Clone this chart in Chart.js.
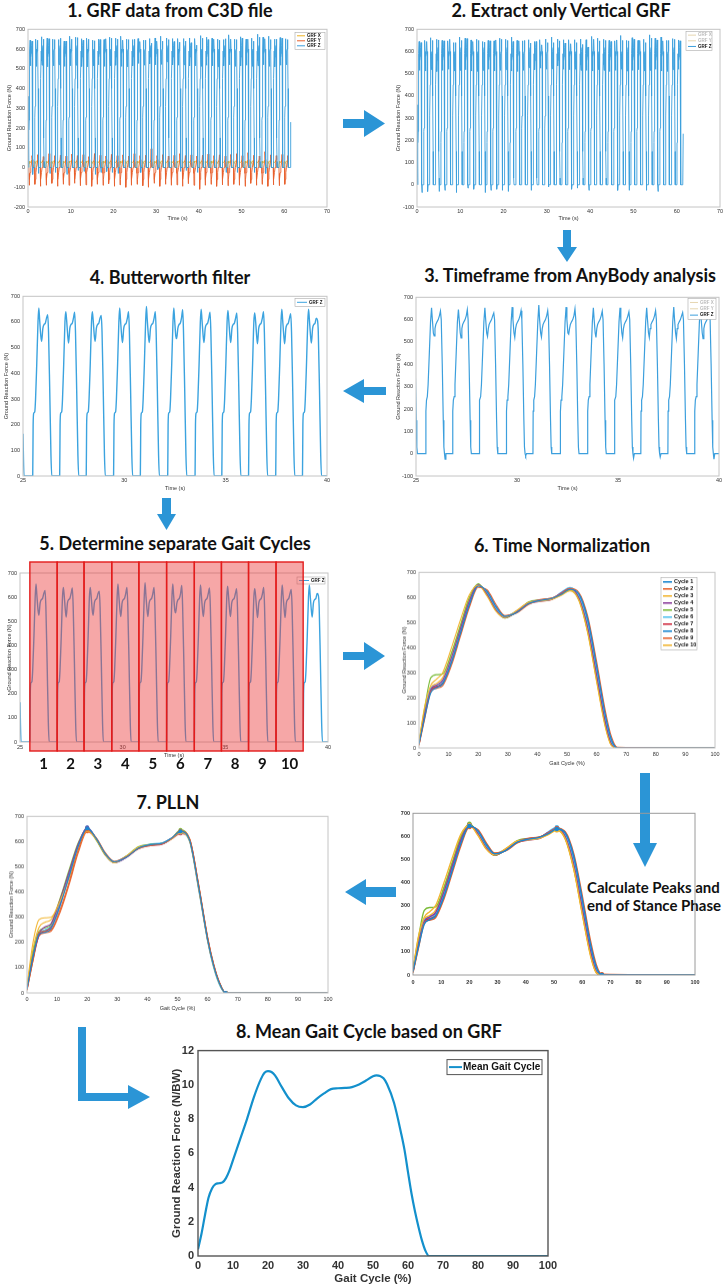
<!DOCTYPE html>
<html>
<head>
<meta charset="utf-8">
<script src="https://cdn.jsdelivr.net/npm/chart.js@4.4.1/dist/chart.umd.min.js"></script>
<style>
  html, body { margin: 0; padding: 0; background: #fff; }
  #page { position: relative; width: 726px; height: 1287px; overflow: hidden; }
  .box { position: absolute; }
  .ttl { position: absolute; font-family: Lato, "Open Sans", sans-serif; font-weight: 700; font-size: 18px;
         line-height: 18px; color: #111; white-space: nowrap; transform: translate(-50%, -50%); }
  .note { position: absolute; font-family: Lato, "Open Sans", sans-serif; font-weight: 700; font-size: 15px;
          line-height: 15px; color: #111; white-space: nowrap; }
</style>
</head>
<body>
<div id="page">
  <div class="ttl" style="left:170px;top:10px">1. GRF data from C3D file</div>
  <div class="ttl" style="left:561px;top:10px">2. Extract only Vertical GRF</div>
  <div class="ttl" style="left:570px;top:275px">3. Timeframe from AnyBody analysis</div>
  <div class="ttl" style="left:170px;top:277px">4. Butterworth filter</div>
  <div class="ttl" style="left:175px;top:543px">5. Determine separate Gait Cycles</div>
  <div class="ttl" style="left:562px;top:545px">6. Time Normalization</div>
  <div class="ttl" style="left:168px;top:802px">7. PLLN</div>
  <div class="ttl" style="left:369px;top:1031px">8. Mean Gait Cycle based on GRF</div>
  <div class="note" style="left:587px;top:880px">Calculate Peaks and</div>
  <div class="note" style="left:587px;top:898px">end of Stance Phase</div>

  <svg class="box" style="left:0;top:0" width="726" height="1287">
    <g fill="#2b95d6">
      <polygon points="343,119 364,119 364,110 385,123.5 364,137 364,128 343,128"/>
      <polygon points="563,230 571,230 571,247 577,247 567,262 557,247 563,247"/>
      <polygon points="386,387 364,387 364,379 343,391 364,403 364,395 386,395"/>
      <polygon points="162,498 171,498 171,514 176,514 166.5,530 157,514 162,514"/>
      <polygon points="343,652 364,652 364,642 385,656 364,670 364,660 343,660"/>
      <polygon points="640,773 650,773 650,843 657,843 645,867 633,843 640,843"/>
      <polygon points="396,887 366,887 366,879 345,892 366,905 366,897 396,897"/>
      <polygon points="78,1027 86,1027 86,1093 128,1093 128,1085 150,1097 128,1109 128,1101 78,1101"/>
    </g>
  </svg>
</div>

<script>
// ---------- raw recording (panels 1-3) ----------
const ONSETS = [0.21, 1.55, 2.86, 4.20, 5.52, 6.87, 8.18, 9.53, 10.84, 12.19,
  13.50, 14.85, 16.16, 17.51, 18.82, 20.17, 21.48, 22.83, 24.14, 25.48,
  26.81, 28.12, 29.47, 30.79, 32.14, 33.49, 34.81, 36.13, 37.47, 38.79,
  40.13, 41.44, 42.79, 44.10, 45.45, 46.76, 48.11, 49.42, 50.77, 52.08,
  53.43, 54.74, 56.09, 57.40, 58.75, 60.06];
const PEAK1 = [645, 650, 662, 655, 650, 648, 640, 665, 660, 652, 655, 645, 650, 648, 660, 655, 665, 650, 648, 653,
  645, 653, 656, 665, 656, 653, 653, 653, 656, 653, 668, 660, 655, 650, 648, 672, 650, 662, 650, 655,
  675, 660, 665, 650, 658, 652];
const VALLEY = [515, 512, 518, 510, 515, 520, 512, 515, 518, 512, 510, 515, 520, 512, 515, 518, 512, 510, 515, 527,
  518, 525, 520, 522, 535, 520, 518, 520, 515, 515, 512, 518, 515, 510, 515, 520, 512, 515, 518, 512,
  515, 520, 512, 510, 518, 520];
const PEAK2 = [640, 645, 650, 652, 648, 655, 640, 650, 658, 645, 650, 642, 648, 652, 655, 650, 645, 648, 650, 638,
  645, 630, 640, 640, 648, 638, 635, 640, 632, 620, 655, 648, 650, 645, 652, 650, 648, 655, 650, 640,
  660, 652, 648, 650, 655, 648];
const Z_DIP = [-35, -30, 0, -30, -25, 0, -35, 0, -15, -20, 0, -35, -25, -20, -25, -30, 0, 0, 0, -25,
  0, 0, -10, 0, 0, 0, -20, -15, 0, -25, 0, 0, 0, 0, -25, 0, -25, 0, 0, -25,
  0, -30, 0, 0, 0, 0];
const Y_MIN = [-90, -85, -95, -90, -80, -95, -85, -90, -80, -92, -88, -95, -85, -90, -82, -95, -88, -100, -90, -85,
  -92, -100, -80, -95, -85, -90, -88, -95, -82, -90, -110, -90, -85, -95, -88, -92, -85, -90, -95, -80,
  -90, -85, -95, -88, -92, -85];
const Y_MAX = [60, 65, 55, 70, 60, 62, 58, 68, 60, 65, 55, 70, 62, 58, 66, 60, 64, 58, 70, 60,
  62, 95, 60, 65, 58, 62, 70, 60, 64, 58, 62, 68, 60, 64, 58, 66, 70, 60, 75, 62,
  58, 80, 64, 60, 66, 60];
// one raw stance phase, seconds after heel strike
const RAW_T = [0, 0.01, 0.04, 0.08, 0.12, 0.18, 0.24, 0.29, 0.33, 0.38, 0.42, 0.46, 0.50, 0.56, 0.62, 0.68, 0.73, 0.77, 0.82, 0.87, 0.90, 0.93];
const RAW_Z = [0, 190, 240, 255, 310, 450, 590, 650, 600, 540, 520, 560, 578, 590, 600, 618, 640, 600, 400, 150, 30, 0];
const FORCE_T = [0, 0.03, 0.08, 0.15, 0.30, 0.45, 0.60, 0.72, 0.82, 0.90, 0.93];
const RAW_X = [0, 20, 32, 22, 25, 30, 35, 28, 12, 2, 0];
const RAW_Y = [0, -30, -85, -60, -25, 0, 25, 55, 40, 5, 0];
const Z_LEAD_T = [0, 0.08], Z_LEAD = [360, 0];
const Z_TAIL_T = [61.4, 61.5], Z_TAIL = [0, 230];

// ---------- filtered recording (panels 4-5) ----------
const FILT_ONSETS = [25.48, 26.81, 28.12, 29.47, 30.79, 32.14, 33.49, 34.81, 36.13, 37.47, 38.79];
const FILT_T = [0, 0.02, 0.05, 0.10, 0.14, 0.20, 0.26, 0.30, 0.34, 0.40, 0.44, 0.50, 0.56, 0.62, 0.68, 0.74, 0.78, 0.84, 0.90, 0.94];
const FILT_Z = [0, 200, 245, 250, 300, 440, 600, 650, 610, 545, 525, 575, 590, 595, 615, 630, 560, 330, 80, 0];
const FILT_PEAK1 = [655, 640, 640, 655, 660, 655, 650, 645, 635, 650, 650];
const FILT_VALLEY = [525, 518, 525, 520, 520, 535, 520, 520, 515, 515, 518];
const FILT_PEAK2 = [628, 638, 625, 640, 640, 648, 638, 635, 640, 632, 607];
const FILT_LEAD_T = [25, 25.05], FILT_LEAD = [165, 0];
const FILT_TAIL_T = [40], FILT_TAIL = [0];

// ---------- time-normalized cycles (panels 6 and 7) ----------
const NORM_X = [0, 2, 4, 6, 8, 11, 14, 17, 20, 23, 26, 29, 33, 37, 41, 45, 48, 51, 54, 57, 60, 63, 65, 67, 100];
const NORM = [
  [15, 125, 220, 240, 255, 340, 455, 570, 645, 625, 565, 525, 540, 575, 588, 597, 612, 632, 615, 515, 330, 130, 35, 0, 0],
  [10, 120, 225, 238, 248, 330, 445, 560, 640, 630, 572, 528, 538, 572, 590, 598, 615, 636, 620, 525, 345, 145, 45, 3, 0],
  [25, 170, 250, 275, 300, 400, 510, 610, 648, 605, 545, 520, 548, 580, 586, 593, 610, 628, 590, 460, 265, 80, 10, 0, 0],
  [18, 140, 232, 252, 270, 362, 475, 585, 650, 612, 550, 520, 544, 578, 590, 596, 618, 636, 598, 478, 290, 100, 15, 0, 0],
  [22, 165, 280, 292, 295, 380, 490, 600, 655, 610, 548, 518, 545, 582, 590, 595, 612, 630, 592, 465, 275, 88, 12, 0, 0],
  [20, 145, 238, 250, 265, 355, 470, 580, 650, 618, 556, 524, 546, 576, 586, 594, 620, 640, 606, 492, 305, 112, 22, 0, 0],
  [15, 135, 230, 245, 262, 352, 468, 582, 652, 615, 552, 520, 542, 574, 584, 592, 615, 638, 602, 488, 300, 105, 18, 0, 0],
  [18, 138, 228, 242, 258, 348, 462, 575, 648, 620, 560, 523, 540, 576, 588, 596, 617, 635, 612, 505, 320, 122, 28, 0, 0],
  [12, 130, 236, 246, 256, 345, 458, 572, 646, 622, 562, 526, 544, 580, 592, 598, 614, 634, 608, 498, 312, 118, 25, 0, 0],
  [22, 150, 240, 258, 280, 375, 485, 595, 650, 608, 546, 518, 546, 579, 587, 594, 608, 626, 588, 458, 268, 85, 10, 0, 0]
];
// ---------- peak-aligned cycles (PLLN) ----------
const PLLN_X = [0, 2, 4, 6, 8, 11, 14, 17, 20, 23, 26, 29, 33, 37, 41, 45, 48, 51, 54, 57, 60, 62, 64, 66, 100];
const PLLN = [
  [15, 140, 232, 240, 255, 345, 462, 580, 652, 612, 552, 520, 538, 574, 588, 594, 614, 640, 606, 422, 212, 108, 36, 0, 0],
  [10, 130, 240, 245, 250, 330, 440, 565, 648, 615, 556, 522, 540, 572, 585, 592, 612, 642, 612, 430, 220, 115, 40, 0, 0],
  [30, 200, 290, 298, 300, 365, 455, 570, 645, 608, 548, 516, 542, 578, 587, 593, 610, 636, 602, 415, 208, 105, 34, 0, 0],
  [18, 145, 235, 262, 275, 370, 480, 590, 655, 610, 548, 516, 538, 575, 587, 593, 612, 637, 604, 418, 210, 108, 37, 0, 0],
  [22, 160, 245, 258, 272, 375, 488, 595, 650, 606, 546, 517, 543, 580, 589, 594, 611, 646, 608, 425, 216, 110, 38, 0, 0],
  [20, 150, 236, 250, 268, 362, 476, 588, 648, 614, 553, 521, 542, 577, 590, 596, 613, 635, 600, 410, 205, 100, 30, 0, 0],
  [14, 135, 228, 245, 262, 352, 466, 583, 650, 611, 551, 519, 537, 572, 584, 590, 610, 632, 610, 430, 222, 114, 40, 0, 0],
  [18, 142, 230, 248, 262, 355, 470, 585, 656, 612, 550, 518, 540, 574, 586, 592, 612, 638, 606, 420, 212, 108, 36, 0, 0],
  [12, 128, 226, 238, 245, 320, 430, 555, 640, 612, 552, 520, 540, 575, 587, 594, 614, 640, 612, 428, 218, 112, 38, 0, 0],
  [25, 175, 260, 280, 290, 372, 478, 588, 648, 608, 548, 517, 541, 576, 586, 592, 611, 636, 604, 418, 210, 106, 35, 0, 0]
];
const CYCLE_LABELS = ["Cycle 1", "Cycle 2", "Cycle 3", "Cycle 4", "Cycle 5", "Cycle 6", "Cycle 7", "Cycle 8", "Cycle 9", "Cycle 10"];
const MARK_IDX = [8, 17, 23]; // first peak, second peak, end of stance

// ---------- mean gait cycle (panel 8, N/BW) ----------
const MEAN_X = [0, 1, 2, 3, 4, 5, 6, 7, 8, 9, 10, 12, 14, 16, 18, 19, 20, 21, 22, 24, 26, 28, 30, 32, 34, 36, 38, 40, 42, 44, 46, 48, 50, 51, 52, 53, 54, 56, 58, 59, 60, 61, 62, 63, 64, 65, 66, 70, 80, 90, 100];
const MEAN_Y = [0.4, 1.3, 2.4, 3.4, 3.95, 4.2, 4.25, 4.3, 4.55, 5.0, 5.6, 6.8, 8.0, 9.3, 10.35, 10.7, 10.8, 10.75, 10.55, 9.85, 9.2, 8.8, 8.7, 8.85, 9.2, 9.5, 9.75, 9.8, 9.82, 9.87, 10.02, 10.25, 10.5, 10.55, 10.52, 10.38, 10.05, 8.95, 7.2, 6.2, 4.9, 3.65, 2.6, 1.7, 0.9, 0.3, 0, 0, 0, 0, 0];

const CYCLE_COLORS = ["#1a86d0", "#e8632d", "#f2b632", "#8c3f9c", "#7cbc3a", "#52c3ef", "#cf2a3e", "#1a86d0", "#e8632d", "#f2b632"];
const Z_COLOR = "#3c9fdd", X_COLOR = "#edb120", Y_COLOR = "#e8602c";
const TICK_COLOR = "#333";

Chart.defaults.font.family = "'Liberation Sans', Arial, sans-serif";

function pairs(xs, ys) { return xs.map((x, i) => ({x: x, y: ys[i]})); }

// place a stance template at each onset, swapping in that cycle's own peak values
function cycles(onsets, T, Z, subs, dips) {
  const pts = [];
  onsets.forEach((t0, i) => {
    T.forEach((dt, k) => {
      let v = Z[k];
      subs.forEach(s => { if (s.idx === k) v = s.vals[i]; });
      pts.push({x: t0 + dt, y: v});
    });
    if (dips && dips[i]) {
      const tEnd = t0 + T[T.length - 1];
      pts.push({x: tEnd + 0.03, y: dips[i]});
      pts.push({x: tEnd + 0.07, y: 0});
    }
  });
  return pts;
}

const rawZ = pairs(Z_LEAD_T, Z_LEAD)
  .concat(cycles(ONSETS, RAW_T, RAW_Z, [{idx: 7, vals: PEAK1}, {idx: 10, vals: VALLEY}, {idx: 16, vals: PEAK2}], Z_DIP))
  .concat(pairs(Z_TAIL_T, Z_TAIL));
const rawX = cycles(ONSETS, FORCE_T, RAW_X, []);
const rawY = cycles(ONSETS, FORCE_T, RAW_Y, [{idx: 2, vals: Y_MIN}, {idx: 7, vals: Y_MAX}]);
const filtZ = pairs(FILT_LEAD_T, FILT_LEAD)
  .concat(cycles(FILT_ONSETS, FILT_T, FILT_Z, [{idx: 7, vals: FILT_PEAK1}, {idx: 10, vals: FILT_VALLEY}, {idx: 15, vals: FILT_PEAK2}]))
  .concat(pairs(FILT_TAIL_T, FILT_TAIL));

// ---------- plugins ----------
const frame = (color, lw) => ({
  id: "frame",
  afterDatasetsDraw(chart) {
    const {ctx, chartArea: a} = chart;
    ctx.save();
    ctx.strokeStyle = color;
    ctx.lineWidth = lw;
    ctx.strokeRect(a.left, a.top, a.right - a.left, a.bottom - a.top);
    ctx.restore();
  }
});

const boxLegend = (c) => ({
  id: "boxLegend",
  afterDraw(chart) {
    const {ctx, chartArea: a} = chart;
    const items = chart.data.datasets.filter(d => d.label);
    const x = a.right - c.right - c.w, y = a.top + c.top;
    ctx.save();
    ctx.fillStyle = "#fff";
    ctx.fillRect(x, y, c.w, c.h);
    ctx.strokeStyle = c.border || "#aaa";
    ctx.lineWidth = c.bw || 0.6;
    ctx.strokeRect(x, y, c.w, c.h);
    ctx.font = c.font;
    ctx.textBaseline = "middle";
    const rowH = (c.h - 2 * c.padY) / items.length;
    items.forEach((d, i) => {
      const cy = y + c.padY + rowH * (i + 0.5);
      ctx.strokeStyle = d.hidden ? "#e6d6b0" : d.borderColor;
      ctx.lineWidth = c.lw;
      ctx.beginPath();
      ctx.moveTo(x + c.padX, cy);
      ctx.lineTo(x + c.padX + c.len, cy);
      ctx.stroke();
      ctx.fillStyle = d.hidden ? "#bbb" : "#111";
      ctx.fillText(d.label, x + c.padX + c.len + c.gap, cy);
    });
    ctx.restore();
  }
});

// red boxes marking each detected gait cycle, numbered underneath
const cycleBoxes = {
  id: "cycleBoxes",
  afterDraw(chart) {
    const {ctx, chartArea: a, scales: {x: xs}} = chart;
    const top = a.top - 11, bot = a.bottom + 9;
    ctx.save();
    for (let i = 0; i < FILT_ONSETS.length - 1; i++) {
      const x1 = xs.getPixelForValue(FILT_ONSETS[i]);
      const x2 = xs.getPixelForValue(FILT_ONSETS[i + 1]);
      ctx.fillStyle = "rgba(236, 60, 60, 0.45)";
      ctx.fillRect(x1, top, x2 - x1, bot - top);
      ctx.strokeStyle = "#e31c1c";
      ctx.lineWidth = 1.4;
      ctx.strokeRect(x1, top, x2 - x1, bot - top);
      ctx.fillStyle = "#111";
      ctx.font = "700 15px Lato, 'Open Sans', sans-serif";
      ctx.textAlign = "center";
      ctx.textBaseline = "middle";
      ctx.fillText(String(i + 1), (x1 + x2) / 2, a.bottom + 22);
    }
    ctx.restore();
  }
};

// ---------- layout helper ----------
function makeChart(area, o, datasets, plugins) {
  const x0 = area.l - o.W, y0 = area.t - o.padTop;
  const w = area.r + o.padRight - x0;
  const h = area.b + o.H + (o.padBottom || 0) - y0;
  const div = document.createElement("div");
  div.className = "box";
  Object.assign(div.style, {left: x0 + "px", top: y0 + "px", width: w + "px", height: h + "px"});
  const cv = document.createElement("canvas");
  div.appendChild(cv);
  document.getElementById("page").appendChild(div);
  const tickFont = {size: o.tickSize || 5.5, weight: o.tickWeight || "normal"};
  const titleFont = {size: o.titleSize || 5.5, weight: o.titleWeight || "normal"};
  return new Chart(cv, {
    type: "line",
    data: {datasets: datasets},
    options: {
      responsive: true,
      maintainAspectRatio: false,
      animation: false,
      events: [],
      layout: {autoPadding: false, padding: {top: o.padTop, right: o.padRight, bottom: o.padBottom || 0, left: 0}},
      plugins: {legend: {display: false}, tooltip: {enabled: false}},
      elements: {point: {radius: 0}},
      scales: {
        x: {
          type: "linear", min: o.x[0], max: o.x[1],
          grid: {display: false, drawTicks: false}, border: {display: false},
          ticks: {stepSize: o.x[2], padding: o.xPad, font: tickFont, color: TICK_COLOR, maxRotation: 0, autoSkip: false},
          title: {display: !!o.xTitle, text: o.xTitle, font: titleFont, color: TICK_COLOR, padding: {top: 0, bottom: o.xTitlePad || 0}},
          afterFit: s => { s.height = o.H; }
        },
        y: {
          type: "linear", min: o.y[0], max: o.y[1],
          grid: {display: false, drawTicks: false}, border: {display: false},
          ticks: {stepSize: o.y[2], padding: o.yPad || 3, font: tickFont, color: TICK_COLOR, autoSkip: false},
          title: {display: !!o.yTitle, text: o.yTitle, font: titleFont, color: TICK_COLOR, padding: {top: o.yTitlePad || 4, bottom: 0}},
          afterFit: s => { s.width = o.W; }
        }
      }
    },
    plugins: plugins
  });
}

const GRF_LABEL = "Ground Reaction Force (N)";
const smallFrame = frame("#c4c4c4", 1);

// 1. GRF data from C3D file
makeChart({l: 28, t: 28, r: 327, b: 207},
  {W: 26, H: 15, padTop: 5, padRight: 8, x: [0, 70, 10], y: [-200, 700, 100], xPad: 1, xTitle: "Time (s)", yTitle: GRF_LABEL, yTitlePad: 4.5},
  [
    {label: "GRF X", data: rawX, borderColor: X_COLOR, borderWidth: 0.9, order: 2},
    {label: "GRF Y", data: rawY, borderColor: Y_COLOR, borderWidth: 0.9, order: 1},
    {label: "GRF Z", data: rawZ, borderColor: Z_COLOR, borderWidth: 0.9, order: 0}
  ],
  [smallFrame, boxLegend({right: 2, top: 3, w: 30, h: 17, padX: 2, padY: 1, len: 8, gap: 2, lw: 1, font: "700 4.5px 'Liberation Sans'"})]);

// 2. Extract only Vertical GRF
makeChart({l: 417, t: 28, r: 720, b: 207},
  {W: 26, H: 15, padTop: 5, padRight: 5, x: [0, 70, 10], y: [-100, 700, 100], xPad: 1, xTitle: "Time (s)", yTitle: GRF_LABEL, yTitlePad: 4.5},
  [
    {label: "GRF X", data: rawX, borderColor: X_COLOR, borderWidth: 0.9, hidden: true},
    {label: "GRF Y", data: rawY, borderColor: Y_COLOR, borderWidth: 0.9, hidden: true},
    {label: "GRF Z", data: rawZ, borderColor: Z_COLOR, borderWidth: 0.9}
  ],
  [smallFrame, boxLegend({right: 8, top: 2, w: 26, h: 19, padX: 2, padY: 1, len: 8, gap: 2, lw: 1, font: "700 4.5px 'Liberation Sans'"})]);

// 3. Timeframe from AnyBody analysis
makeChart({l: 416, t: 296, r: 719, b: 476},
  {W: 26, H: 16, padTop: 5, padRight: 5, x: [25, 40, 5], y: [-100, 700, 100], xPad: 1, xTitle: "Time (s)", yTitle: GRF_LABEL, yTitlePad: 5},
  [
    {label: "GRF X", data: rawX, borderColor: X_COLOR, borderWidth: 1.2, hidden: true},
    {label: "GRF Y", data: rawY, borderColor: Y_COLOR, borderWidth: 1.2, hidden: true},
    {label: "GRF Z", data: rawZ, borderColor: Z_COLOR, borderWidth: 1.2}
  ],
  [smallFrame, boxLegend({right: 3, top: 1, w: 28, h: 21, padX: 2, padY: 1, len: 8, gap: 2, lw: 1, font: "700 4.5px 'Liberation Sans'"})]);

// 4. Butterworth filter
makeChart({l: 23, t: 295, r: 327, b: 476},
  {W: 22, H: 16, padTop: 5, padRight: 8, x: [25, 40, 5], y: [0, 700, 100], xPad: 1, xTitle: "Time (s)", yTitle: GRF_LABEL, yTitlePad: 2.5},
  [{label: "GRF Z", data: filtZ, borderColor: "#3ba3df", borderWidth: 1.4, cubicInterpolationMode: "monotone"}],
  [smallFrame, boxLegend({right: 2, top: 2, w: 30, h: 8, padX: 2, padY: 1, len: 10, gap: 2, lw: 1, font: "700 4.5px 'Liberation Sans'"})]);

// 5. Determine separate Gait Cycles
makeChart({l: 20, t: 573, r: 328, b: 742},
  {W: 18, H: 17, padTop: 13, padRight: 8, padBottom: 14, x: [25, 40, 5], y: [0, 700, 100], xPad: 2, xTitle: "Time (s)", yTitle: GRF_LABEL, yTitlePad: 0},
  [{label: "GRF Z", data: filtZ, borderColor: "#3ba3df", borderWidth: 1.4, cubicInterpolationMode: "monotone"}],
  [smallFrame, boxLegend({right: 3, top: 4, w: 28, h: 7, padX: 2, padY: 1, len: 10, gap: 2, lw: 1, font: "700 4.5px 'Liberation Sans'"}), cycleBoxes]);

// 6. Time Normalization
makeChart({l: 419, t: 571, r: 715, b: 747},
  {W: 22, H: 18.5, padTop: 5, padRight: 8, x: [0, 100, 10], y: [0, 700, 100], xPad: 3, xTitle: "Gait Cycle (%)", yTitle: GRF_LABEL, yTitlePad: 4.5},
  NORM.map((ys, i) => ({label: CYCLE_LABELS[i], data: pairs(NORM_X, ys), borderColor: CYCLE_COLORS[i], borderWidth: 1.1, cubicInterpolationMode: "monotone"})),
  [smallFrame, boxLegend({right: 18, top: 5, w: 36, h: 72, padX: 2, padY: 1, len: 9, gap: 2, lw: 1.6, font: "700 5.5px 'Liberation Sans'"})]);

// 7 (right). Peaks and end of stance
makeChart({l: 413, t: 812, r: 695, b: 975},
  {W: 18, H: 14, padTop: 5, padRight: 10, x: [0, 100, 10], y: [0, 700, 100], xPad: 4, tickWeight: "bold"},
  NORM.map((ys, i) => ({label: CYCLE_LABELS[i], data: pairs(NORM_X, ys), borderColor: CYCLE_COLORS[i], backgroundColor: CYCLE_COLORS[i],
    borderWidth: 1.4, cubicInterpolationMode: "monotone",
    pointRadius: c => MARK_IDX.includes(c.dataIndex) ? 2.2 : 0, pointBorderWidth: 0})),
  [frame("#9a9a9a", 1)]);

// 7. PLLN
makeChart({l: 27, t: 815, r: 328, b: 992},
  {W: 24, H: 18.5, padTop: 5, padRight: 8, x: [0, 100, 10], y: [0, 700, 100], xPad: 3, xTitle: "Gait Cycle (%)", yTitle: GRF_LABEL, yTitlePad: 5.5},
  PLLN.map((ys, i) => ({label: CYCLE_LABELS[i], data: pairs(PLLN_X, ys), borderColor: CYCLE_COLORS[i], backgroundColor: CYCLE_COLORS[i],
    borderWidth: 1.1, cubicInterpolationMode: "monotone",
    pointRadius: c => MARK_IDX.includes(c.dataIndex) ? 2 : 0, pointBorderWidth: 0})),
  [smallFrame]);

// 8. Mean Gait Cycle based on GRF
makeChart({l: 198, t: 1048, r: 548, b: 1256},
  {W: 36, H: 31, padTop: 8, padRight: 14, x: [0, 100, 10], y: [0, 12, 2], xPad: 3, yPad: 4, xTitlePad: 1.4,
   tickSize: 11, tickWeight: "bold", titleSize: 11.5, titleWeight: "bold",
   xTitle: "Gait Cycle (%)", yTitle: "Ground Reaction Force (N/BW)", yTitlePad: 8},
  [{label: "Mean Gait Cycle", data: pairs(MEAN_X, MEAN_Y), borderColor: "#1390cc", borderWidth: 2.2, cubicInterpolationMode: "monotone"}],
  [frame("#555", 1.4), boxLegend({right: 6, top: 9, w: 95, h: 15, padX: 2, padY: 0, len: 13, gap: 1, lw: 2, border: "#555", bw: 1, font: "700 10px 'Liberation Sans'"})]);
</script>
</body>
</html>
